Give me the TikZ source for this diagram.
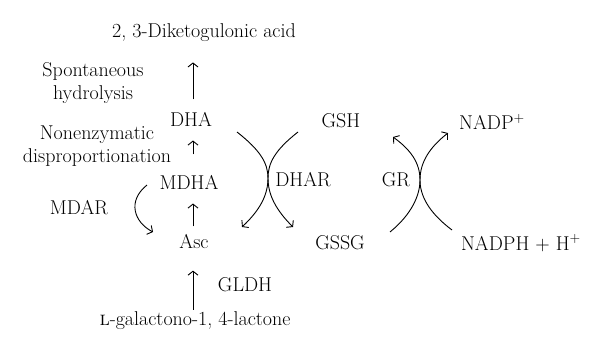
\documentclass[tikz,border=0pt]{standalone}
\usepackage{amsmath}
\usepackage{tikz}
\usetikzlibrary{arrows.meta}

\begin{document}
\begin{tikzpicture}[x=1pt, y=-1pt, > = {Straight Barb[length=4pt,width=10pt]}, line width=0.9pt,
        every node/.style={font=\fontsize{20}{23}\selectfont, inner sep=0pt},
        lbl/.style={align=center}]
            \useasboundingbox (0,0) rectangle (600,351);
            \coordinate (axis) at (193,0);
            % pathway column
            \node (dkg) at (204,33) {2, 3-Diketogulonic acid};
            \node (dha) at (191,119) {DHA};
            \node (mdha) at (189,182) {MDHA};
            \node (asc) at (194,242) {Asc};
            \node (lac) at (195,321) {\textsc{l}-galactono-1, 4-lactone};
            \node[lbl] (hyd) at (93,83) {Spontaneous\\hydrolysis};
            \node[lbl] (dis) at (97,146) {Nonenzymatic\\disproportionation};
            \node (mdar) at (79,208) {MDAR};
            \node (gldh) at (245,285) {GLDH};
            \draw[->, shorten <=12pt, shorten >=20pt] (dha.north -| axis) -- (dkg.south -| axis);
            \draw[->, shorten <=20pt, shorten >=14pt] (mdha.north -| axis) -- (dha.south -| axis);
            \draw[->, shorten <=8pt, shorten >=14pt] (asc.north -| axis) -- (mdha.south -| axis);
            \draw[->, shorten <=2pt, shorten >=21pt] (lac.north -| axis) -- (asc.south -| axis);
            \draw[->] (147,185) .. controls (127,201) and (134,222) .. (153,232);
            % glutathione cycle
            \node (gsh) at (341,121) {GSH};
            \node (dhar) at (303,180) {DHAR};
            \node (gssg) at (340,243) {GSSG};
            \node (gr) at (396,180) {GR};
            \node (nadp) at (492,122) {NADP\textsuperscript{+}};
            \node (nadph) at (521,243) {NADPH + H\textsuperscript{+}};
            \draw[->] (237,132) .. controls (260,150) and (268,163) .. (268,178)
                .. controls (268,195) and (260,210) .. (242,227);
            \draw[->] (298,132) .. controls (275,150) and (268,163) .. (268,178)
                .. controls (268,195) and (276,210) .. (293,227);
            \draw[->] (390,232) .. controls (412,214) and (420,195) .. (420,180)
                .. controls (420,163) and (411,150) .. (393,137);
            \draw[->] (452,230) .. controls (428,212) and (420,195) .. (420,180)
                .. controls (420,162) and (430,147) .. (448,133);
        \end{tikzpicture}
\end{document}
